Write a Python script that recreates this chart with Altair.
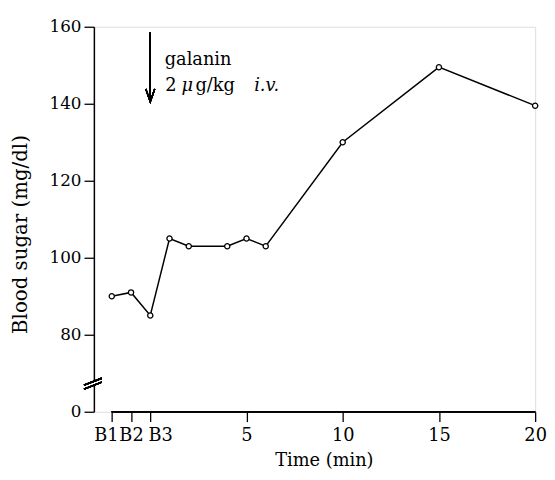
import altair as alt
import pandas as pd

# ---- data ----
time_min = [-2, -1, 0, 1, 2, 4, 5, 6, 10, 15, 20]          # B1, B2, B3 = -2, -1, 0
blood_sugar = [90, 91, 85, 105, 103, 103, 105, 103, 130, 149.5, 139.5]

x_tick_values = [-2, -1, 0, 5, 10, 15, 20]
x_tick_labels = ["B1", "B2", "B3", "5", "10", "15", "20"]
y_tick_values = [60, 80, 100, 120, 140, 160]
y_tick_labels = ["0", "80", "100", "120", "140", "160"]

ann_text = ["galanin", "2", "\u03bc", "g/kg", "i.v."]
ann_x = [0.75, 0.78, 1.62, 2.35, 5.4]
ann_y = [150, 143.3, 143.3, 143.3, 143.3]
ann_italic = [False, False, True, False, True]

FONT = "DejaVu Serif"

df = pd.DataFrame({"t": time_min, "bs": blood_sugar})
ann = pd.DataFrame({"t": ann_x, "bs": ann_y, "txt": ann_text, "it": ann_italic})


def label_expr(values, labels):
    expr = "datum.label"
    for v, l in reversed(list(zip(values, labels))):
        expr = f"datum.value == {v} ? '{l}' : ({expr})"
    return expr


x_scale = alt.Scale(domain=[-2.93, 20], nice=False, zero=False)
y_scale = alt.Scale(domain=[60, 160], nice=False, zero=False)

x_axis = alt.Axis(
    values=x_tick_values,
    labelExpr=label_expr(x_tick_values, x_tick_labels),
    domain=False, grid=False,
    ticks=True, tickSize=10, tickColor="black", tickWidth=1.3,
    labelFont=FONT, labelFontSize=18, labelColor="black", labelPadding=5,
    labelOffset=alt.ExprRef("datum.value == -2 ? -6 : (datum.value == 0 ? 10 : 0)"),
    labelFlush=False, labelOverlap=False,
    title="Time (min)", titleFont=FONT, titleFontSize=18, titleFontWeight="normal",
    titleColor="black", titleX=233, titleY=54, titleBaseline="alphabetic", titleAlign="center",
)
y_axis = alt.Axis(
    values=y_tick_values,
    labelExpr=label_expr(y_tick_values, y_tick_labels),
    domain=True, domainColor="black", domainWidth=1.5, grid=False,
    ticks=True, tickSize=10, tickColor="black", tickWidth=1.3,
    labelFont=FONT, labelFontSize=17, labelColor="black", labelPadding=3,
    labelFlush=False, labelOverlap=False,
    title="Blood sugar (mg/dl)", titleFont=FONT, titleFontSize=20, titleFontWeight="normal",
    titleColor="black", titleX=-74, titleY=210, titleBaseline="middle", titleAlign="center",
    titleAngle=270,
)

base = alt.Chart(df)

line = base.mark_line(color="black", strokeWidth=1.5).encode(
    x=alt.X("t:Q", scale=x_scale, axis=x_axis),
    y=alt.Y("bs:Q", scale=y_scale, axis=y_axis),
)
points = base.mark_point(
    shape="circle", filled=True, fill="white", stroke="black", strokeWidth=1.3,
    size=28, opacity=1,
).encode(x="t:Q", y="bs:Q")

# x axis line from B1 to 20
x_line = alt.Chart(df).mark_rule(color="black", strokeWidth=1.2).encode(
    x=alt.datum(x_tick_values[0]), x2=alt.datum(x_tick_values[-1]), y=alt.datum(60)
)

# axis break
gap = alt.Chart(df).mark_rect(color="white").encode(
    x=alt.value(-3), x2=alt.value(4), y=alt.datum(66.9), y2=alt.datum(67.8)
)
slash1 = alt.Chart(df).mark_rule(color="black", strokeWidth=1.4).encode(
    x=alt.value(-10), x2=alt.value(8), y=alt.datum(66.9), y2=alt.datum(68.7)
)
slash2 = alt.Chart(df).mark_rule(color="black", strokeWidth=1.4).encode(
    x=alt.value(-10), x2=alt.value(8), y=alt.datum(65.9), y2=alt.datum(67.7)
)

# injection arrow
arrow_line = alt.Chart(df).mark_rule(color="black", strokeWidth=1.3).encode(
    x=alt.datum(0), y=alt.datum(158.5), y2=alt.datum(140.5)
)
arrow_head = alt.Chart(df).mark_point(
    shape="M-4.5,-13L0,0L4.5,-13", filled=False, stroke="black", strokeWidth=1.3,
    size=4, opacity=1,
).encode(x=alt.datum(0), y=alt.datum(140.5))

text_normal = alt.Chart(ann).transform_filter("!datum.it").mark_text(
    font=FONT, fontSize=18, color="black", align="left", baseline="alphabetic"
).encode(x="t:Q", y="bs:Q", text="txt:N")
text_italic = alt.Chart(ann).transform_filter("datum.it").mark_text(
    font=FONT, fontSize=18, fontStyle="italic", color="black", align="left",
    baseline="alphabetic"
).encode(x="t:Q", y="bs:Q", text="txt:N")

chart = alt.layer(
    line, points, x_line, gap, slash1, slash2, arrow_line, arrow_head,
    text_normal, text_italic,
).properties(
    width=447, height=390,
    autosize=alt.AutoSizeParams(type="none"),
    padding={"left": 87, "top": 16, "right": 12, "bottom": 56},
).configure_view(stroke=None).configure(background="white")

chart.save("out.html", embed_options={"renderer": "svg", "actions": False})
